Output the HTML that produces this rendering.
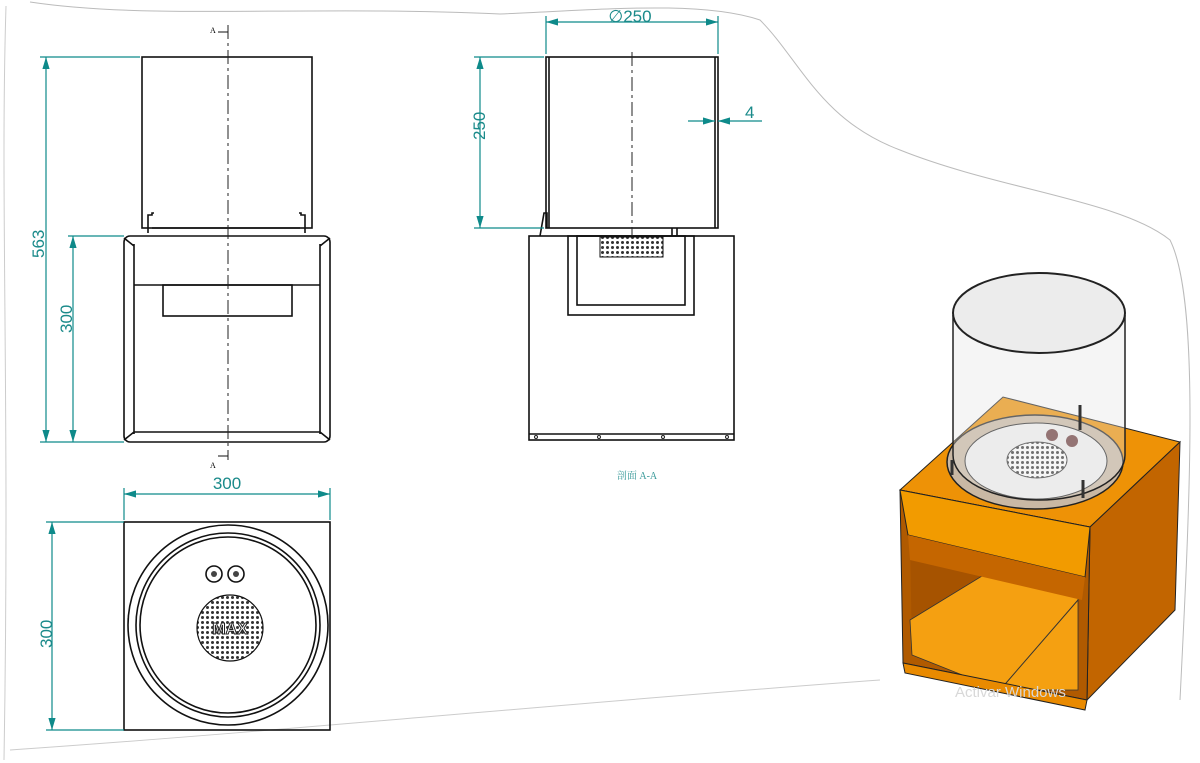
<!DOCTYPE html>
<html><head><meta charset="utf-8"><style>
html,body{margin:0;padding:0;background:#fff;width:1200px;height:763px;overflow:hidden}
svg{display:block}
.l{stroke:#111;fill:none;stroke-width:1.6}
.t{stroke:#0e8a8a;fill:none;stroke-width:1.2}
.c{stroke:#222;stroke-width:1;stroke-dasharray:14 4 3 4;fill:none}
text.d{fill:#1a8a8a;font-family:"Liberation Sans",sans-serif;font-size:17px}
</style></head><body>
<svg width="1200" height="763" viewBox="0 0 1200 763" xmlns="http://www.w3.org/2000/svg">
<defs>
<marker id="a" viewBox="0 0 10 6" refX="10" refY="3" markerWidth="10" markerHeight="6" orient="auto-start-reverse"><path d="M0,0L10,3L0,6z" fill="#0e8a8a"/></marker>
<pattern id="m" width="5" height="5" patternUnits="userSpaceOnUse"><rect width="5" height="5" fill="#fff"/><circle cx="2.5" cy="2.5" r="1.5" fill="#333"/></pattern>
</defs>
<path d="M30,2 C150,20 300,5 500,14 C600,10 700,0 760,20 C800,60 820,120 900,150 C1000,190 1120,200 1170,240 C1200,300 1190,500 1180,700" stroke="#bbb" fill="none" stroke-width="1"/>
<path d="M6,6 C0,200 10,400 4,760" stroke="#ccc" fill="none"/>
<path d="M10,750 C300,730 600,700 880,680" stroke="#ccc" fill="none"/>

<!-- LEFT FRONT VIEW -->
<rect x="142" y="57" width="170" height="171" class="l"/>
<path d="M148,233V215h4v-2h2M305,233V215h-4v-2h-2" class="l" stroke-width="1.2"/>
<line x1="152" y1="228" x2="300" y2="228" class="l" stroke-width="1"/>
<rect x="124" y="236" width="206" height="206" rx="6" class="l"/>
<path d="M134,244V434M320,244V434M134,432H320M124,238l10,8M330,238l-10,8M124,440l10,-8M330,440l-10,-8" class="l" stroke-width="1"/>
<line x1="134" y1="285" x2="320" y2="285" class="l"/>
<rect x="163" y="285" width="129" height="31" class="l"/>
<line x1="228" y1="25" x2="228" y2="460" class="c"/>
<text x="210" y="33" font-size="8" font-family="Liberation Serif">A</text>
<text x="210" y="468" font-size="8" font-family="Liberation Serif">A</text>
<path d="M218,32h10M218,456h10" stroke="#111"/>
<path d="M40,57H140M40,442H124M68,236H124" class="t"/>
<line x1="46" y1="57" x2="46" y2="442" class="t" marker-start="url(#a)" marker-end="url(#a)"/>
<line x1="73" y1="236" x2="73" y2="442" class="t" marker-start="url(#a)" marker-end="url(#a)"/>
<text class="d" transform="translate(44,258) rotate(-90)">563</text>
<text class="d" transform="translate(72,333) rotate(-90)">300</text>

<!-- TOP VIEW -->
<rect x="124" y="522" width="206" height="208" class="l"/>
<circle cx="228" cy="625" r="100" class="l" stroke-width="1.3"/>
<circle cx="228" cy="625" r="92" class="l" stroke-width="1.3"/>
<circle cx="228" cy="625" r="88" class="l" stroke-width="1"/>
<circle cx="214" cy="574" r="8" class="l" fill="#ddd"/><circle cx="236" cy="574" r="8" class="l" fill="#ddd"/>
<circle cx="214" cy="574" r="3" fill="#444"/><circle cx="236" cy="574" r="3" fill="#444"/>
<circle cx="230" cy="628" r="33" fill="url(#m)" stroke="#111" stroke-width="1.2"/>
<text x="230" y="634" text-anchor="middle" font-family="Liberation Sans" font-size="16" font-weight="bold" fill="#fff" stroke="#222" stroke-width="1">MAX</text>
<path d="M124,488V520M330,488V520" class="t"/>
<line x1="124" y1="494" x2="330" y2="494" class="t" marker-start="url(#a)" marker-end="url(#a)"/>
<text class="d" x="227" y="489" text-anchor="middle">300</text>
<path d="M46,522H124M46,730H124" class="t"/>
<line x1="52" y1="522" x2="52" y2="730" class="t" marker-start="url(#a)" marker-end="url(#a)"/>
<text class="d" transform="translate(52,648) rotate(-90)">300</text>

<!-- SECTION VIEW -->
<rect x="546" y="57" width="172" height="171" class="l"/>
<line x1="549" y1="57" x2="549" y2="228" class="l" stroke-width="1"/>
<line x1="715" y1="57" x2="715" y2="228" class="l" stroke-width="1"/>
<path d="M540,236l4,-23h3v15M672,228v8M677,228v8" class="l" stroke-width="1"/>
<rect x="529" y="236" width="205" height="204" class="l"/>
<rect x="568" y="236" width="126" height="79" class="l"/>
<rect x="577" y="236" width="108" height="69" class="l" stroke-width="1.2"/>
<rect x="600" y="237" width="63" height="20" fill="url(#m)" stroke="#111"/>
<line x1="529" y1="434" x2="734" y2="434" class="l" stroke-width="1"/>
<g fill="none" stroke="#222"><circle cx="536" cy="437" r="1.5"/><circle cx="599" cy="437" r="1.5"/><circle cx="663" cy="437" r="1.5"/><circle cx="727" cy="437" r="1.5"/></g>
<line x1="632" y1="52" x2="632" y2="236" class="c"/>
<path d="M546,16V54M718,16V54M474,57H544M474,228H544" class="t"/>
<line x1="546" y1="22" x2="718" y2="22" class="t" marker-start="url(#a)" marker-end="url(#a)"/>
<text class="d" x="630" y="22" text-anchor="middle" font-size="18">∅250</text>
<line x1="480" y1="57" x2="480" y2="228" class="t" marker-start="url(#a)" marker-end="url(#a)"/>
<text class="d" transform="translate(485,140) rotate(-90)">250</text>
<line x1="688" y1="121" x2="715" y2="121" class="t" marker-end="url(#a)"/>
<line x1="762" y1="121" x2="718" y2="121" class="t" marker-end="url(#a)"/>
<text class="d" x="745" y="118">4</text>
<text x="637" y="479" text-anchor="middle" font-size="10" fill="#3a9a9a" font-family="'Liberation Serif','Noto Serif CJK SC',serif">剖面 A-A</text>

<!-- ISOMETRIC -->
<polygon points="900,490 1003,397 1180,442 1090,527" fill="#ee9206" stroke="#222"/>
<polygon points="1090,527 1180,442 1175,610 1087,700" fill="#c26500" stroke="#222"/>
<polygon points="900,490 1090,527 1087,700 903,663" fill="#b05a00" stroke="#222"/>
<polygon points="910,535 1080,570 1078,690 912,655" fill="#a65300"/>
<polygon points="910,620 1000,565 1078,580 1078,690 1000,690 912,655" fill="#f5a011" stroke="#333" stroke-width="0.8"/>
<line x1="1000" y1="690" x2="1078" y2="600" stroke="#333"/>
<polygon points="900,490 1090,527 1085,577 908,535" fill="#f29b00" stroke="#222"/>
<polygon points="908,535 1085,577 1082,600 910,560" fill="#c56600"/>
<polygon points="903,663 1087,700 1085,710 905,673" fill="#e98a00" stroke="#222"/>
<ellipse cx="1035" cy="462" rx="88" ry="47" fill="#c9b8a4" stroke="#222" stroke-width="1.5"/>
<ellipse cx="1036" cy="461" rx="71" ry="38" fill="#f2f2f2" stroke="#222"/>
<ellipse cx="1037" cy="460" rx="30" ry="18" fill="url(#m)" stroke="#333"/>
<circle cx="1052" cy="435" r="6" fill="#6a3a3a"/><circle cx="1072" cy="441" r="6" fill="#6a3a3a"/>
<path d="M953,315 V455 A86,45 0 0 0 1125,455 V315" fill="#e3e3e3" fill-opacity="0.35" stroke="#222" stroke-width="1.5"/>
<ellipse cx="1039" cy="313" rx="86" ry="40" fill="#ececec" stroke="#222" stroke-width="2"/>
<path d="M1080,405v25M1083,480v18M952,460v15" stroke="#333" stroke-width="3"/>
<text x="955" y="697" font-family="Liberation Sans" font-size="15" fill="#d8d8d8">Activar Windows</text>
</svg>
</body></html>
